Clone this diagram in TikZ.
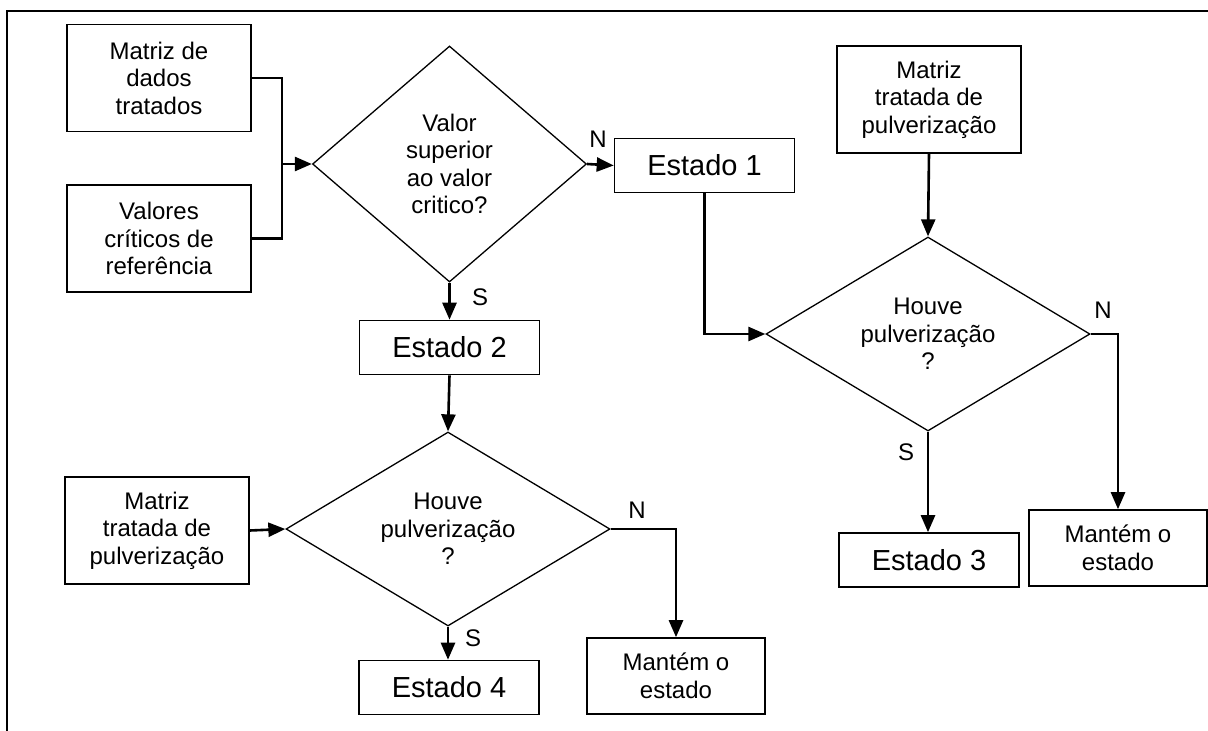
\documentclass[tikz,border=0pt]{standalone}
\usepackage{fontspec}
\setmainfont{Liberation Sans}
\usetikzlibrary{shapes.geometric,arrows.meta}
\begin{document}
\begin{tikzpicture}[x=1pt,y=-1pt,
  txt/.style={font=\fontsize{24}{27.5}\selectfont},
  big/.style={font=\fontsize{29}{34}\selectfont},
  infobox/.style={draw,line width=1.6pt,rectangle,minimum width=184pt,minimum height=107pt,inner sep=0pt,align=center,txt},
  statebox/.style={draw,line width=1.6pt,rectangle,minimum width=180pt,minimum height=54pt,inner sep=0pt,align=center,big},
  keepbox/.style={draw,line width=1.6pt,rectangle,minimum width=178pt,minimum height=76pt,inner sep=0pt,align=center,font=\fontsize{24}{28}\selectfont},
  decision/.style={draw,line width=1.3pt,diamond,inner sep=0pt,align=center,txt},
  conn/.style={line width=2.6pt},
  arr/.style={conn,-{Triangle[length=17pt,width=14pt]}},
  lbl/.style={txt,inner sep=0pt}
]
\useasboundingbox (0,0) rectangle (1208,731);
\fill[white] (0,0) rectangle (1208,731);

% frame
\draw[line width=2pt] (7,731) -- (7,11) -- (1208,11);

% left column inputs
\node[infobox] (dados) at (159,78) {Matriz de\\dados\\tratados};
\node[infobox] (crit) at (159,238.5) {Valores\\críticos de\\referência};

% first decision
\node[decision,aspect=1.16,minimum width=274pt,minimum height=236pt] (d1) at (449.5,164) {Valor\\superior\\ao valor\\critico?};
\node[statebox] (e1) at (704.5,165.5) {Estado 1};
\node[statebox] (e2) at (449.5,347.5) {Estado 2};

% right branch
\node[infobox] (pulvA) at (929,99.5) {Matriz\\tratada de\\pulverização};
\node[decision,aspect=1.68,minimum width=324pt,minimum height=194pt] (d3) at (928,334) {Houve\\pulverização\\?};
\node[statebox] (e3) at (929,560) {Estado 3};
\node[keepbox] (keepA) at (1118,548) {Mantém o\\estado};

% lower branch
\node[infobox] (pulvB) at (157,530.5) {Matriz\\tratada de\\pulverização};
\node[decision,aspect=1.68,minimum width=324pt,minimum height=194pt] (d2) at (448,529) {Houve\\pulverização\\?};
\node[statebox] (e4) at (449,687.5) {Estado 4};
\node[keepbox] (keepB) at (676,676) {Mantém o\\estado};

% connectors
\coordinate (join) at (282,164);
\draw[conn] (dados.east) -| (join);
\draw[conn] (crit.east) -| (join);
\draw[arr] (join) -- (d1.west);
\draw[arr] (d1.east) -- (e1.west);
\draw[arr] (d1.south) -- (e2.north);
\draw[arr] (e1.south) |- (d3.west);
\draw[arr] (pulvA.south) -- (d3.north);
\draw[arr] (d3.east) -| (keepA.north);
\draw[arr] (d3.south) -- (e3.north -| d3.south);
\draw[arr] (e2.south) -- (d2.north);
\draw[arr] (pulvB.east) -- (d2.west);
\draw[arr] (d2.east) -| (keepB.north);
\draw[arr] (d2.south) -- (e4.north -| d2.south);

% branch labels
\node[lbl] (n1) at (598,139) {N};
\node[lbl] (s1) at (480,297) {S};
\node[lbl] (n3) at (1103,310) {N};
\node[lbl] (s3) at (906,452) {S};
\node[lbl] (n2) at (637,510) {N};
\node[lbl] (s2) at (473,638) {S};
\end{tikzpicture}
\end{document}
